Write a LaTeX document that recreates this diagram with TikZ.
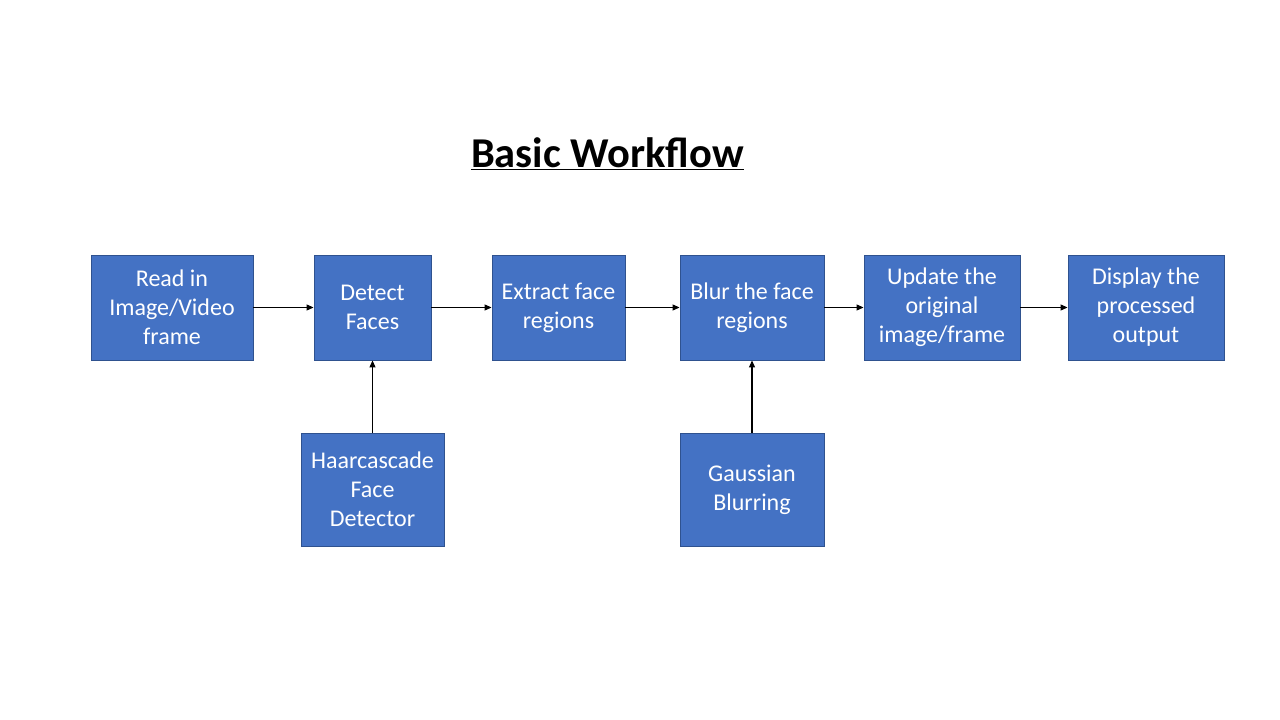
\documentclass[tikz,border=0pt]{standalone}
\usepackage{fontspec}
\setmainfont{Carlito}
\usetikzlibrary{arrows.meta}
\definecolor{boxfill}{HTML}{4472C4}
\definecolor{boxline}{HTML}{2F528F}
\tikzset{
  stage/.style={draw=boxline, line width=0.9pt, fill=boxfill, text=white, align=center,
    inner sep=0pt, font=\fontsize{24pt}{29pt}\selectfont},
  link/.style={line width=1.1pt, -{Triangle[length=7pt,width=6pt]}}
}
\begin{document}
\begin{tikzpicture}[x=1pt,y=1pt]
\useasboundingbox[fill=white] (0,0) rectangle (1280,720);
\node[font=\fontsize{42.5pt}{50pt}\selectfont\bfseries] (title) at (607.5,566) {\underline{Basic Workflow}};
\node[stage, minimum width=162pt, minimum height=105pt] (read) at (172,412.5) {Read in\\Image/Video\\frame};
\node[stage, minimum width=117pt, minimum height=105pt] (detect) at (372.5,412.5) {Detect\\Faces};
\node[stage, minimum width=133pt, minimum height=105pt] (extract) at (558.5,412.5) {Extract face\\regions};
\node[stage, minimum width=144pt, minimum height=105pt] (blur) at (752,412.5) {Blur the face\\regions};
\node[stage, minimum width=156pt, minimum height=105pt] (update) at (942,412.5) {Update the\\original\\image/frame};
\node[stage, minimum width=156pt, minimum height=105pt] (display) at (1146,412.5) {Display the\\processed\\output};
\node[stage, minimum width=143pt, minimum height=113pt] (haar) at (372.5,230.5) {Haarcascade\\Face\\Detector};
\node[stage, minimum width=144pt, minimum height=113pt] (gauss) at (752,230.5) {Gaussian\\Blurring};
\draw[link] (read) -- (detect);
\draw[link] (detect) -- (extract);
\draw[link] (extract) -- (blur);
\draw[link] (blur) -- (update);
\draw[link] (update) -- (display);
\draw[link] (haar) -- (detect);
\draw[link] (gauss) -- (blur);
\end{tikzpicture}
\end{document}
